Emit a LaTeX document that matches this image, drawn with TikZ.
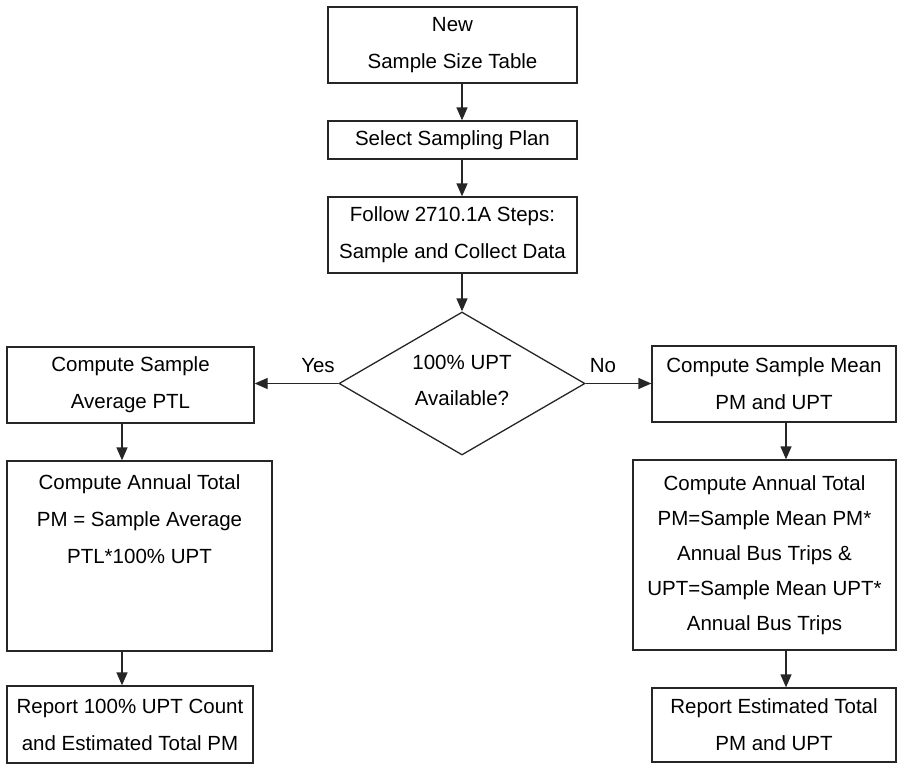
\documentclass[tikz,border=0pt]{standalone}
\usepackage{fontspec}
\setmainfont{Liberation Sans}
\usetikzlibrary{arrows.meta,shapes.geometric}
\begin{document}
\begin{tikzpicture}[x=1pt,y=-1pt,
  box/.style={draw=black!85, line width=1.3pt, rectangle, align=center, inner sep=0pt,
    font=\fontsize{20.5}{37}\selectfont},
  dia/.style={draw=black!85, line width=1.3pt, diamond, inner sep=0pt},
  arr/.style={draw=black!85, line width=1.3pt, -{Triangle[length=13pt,width=11pt]}},
  lbl/.style={align=center, inner sep=0pt, font=\fontsize{20.5}{36}\selectfont}]
\useasboundingbox (0,0) rectangle (898,764);

\node[box, minimum width=249pt, minimum height=76pt] (new) at (452.5,45) {New\\Sample Size Table};
\node[box, minimum width=249pt, minimum height=38pt] (plan) at (452.5,140) {Select Sampling Plan};
\node[box, minimum width=249pt, minimum height=76pt] (follow) at (452.5,235) {Follow 2710.1A Steps:\\Sample and Collect Data};
\node[dia, minimum width=246pt, minimum height=143pt] (q) at (462,383.5) {};
\node[lbl] (qtext) at (462,380) {100\% UPT\\Available?};

\node[box, minimum width=247pt, minimum height=76pt] (avg) at (130.5,385) {Compute Sample\\Average PTL};
\node[box, minimum width=265pt, minimum height=190pt] (annL) at (139.5,556)
  {Compute Annual Total\\PM = Sample Average\\PTL*100\% UPT\\\mbox{}\\\mbox{}};
\node[box, minimum width=246pt, minimum height=77pt] (repL) at (130,724.5) {Report 100\% UPT Count\\and Estimated Total PM};

\node[box, minimum width=244pt, minimum height=76pt] (mean) at (774,384) {Compute Sample Mean\\PM and UPT};
\node[box, minimum width=263pt, minimum height=190pt, font=\fontsize{20.5}{35}\selectfont] (annR) at (764.5,555)
  {Compute Annual Total\\PM=Sample Mean PM*\\Annual Bus Trips \&\\UPT=Sample Mean UPT*\\Annual Bus Trips};
\node[box, minimum width=244pt, minimum height=74pt] (repR) at (774,725) {Report Estimated Total\\PM and UPT};

\node[lbl] (yes) at (318,366) {Yes};
\node[lbl] (no) at (603,366) {No};

\coordinate (lx) at (122,0);
\coordinate (rx) at (786,0);

\draw[arr] (new.south -| q.north) -- (plan.north -| q.north);
\draw[arr] (plan.south -| q.north) -- (follow.north -| q.north);
\draw[arr] (follow.south -| q.north) -- (q.north);
\draw[arr] (q.west) -- (avg.east |- q.west);
\draw[arr] (q.east) -- (mean.west |- q.east);
\draw[arr] (avg.south -| lx) -- (annL.north -| lx);
\draw[arr] (annL.south -| lx) -- (repL.north -| lx);
\draw[arr] (mean.south -| rx) -- (annR.north -| rx);
\draw[arr] (annR.south -| rx) -- (repR.north -| rx);
\end{tikzpicture}
\end{document}
